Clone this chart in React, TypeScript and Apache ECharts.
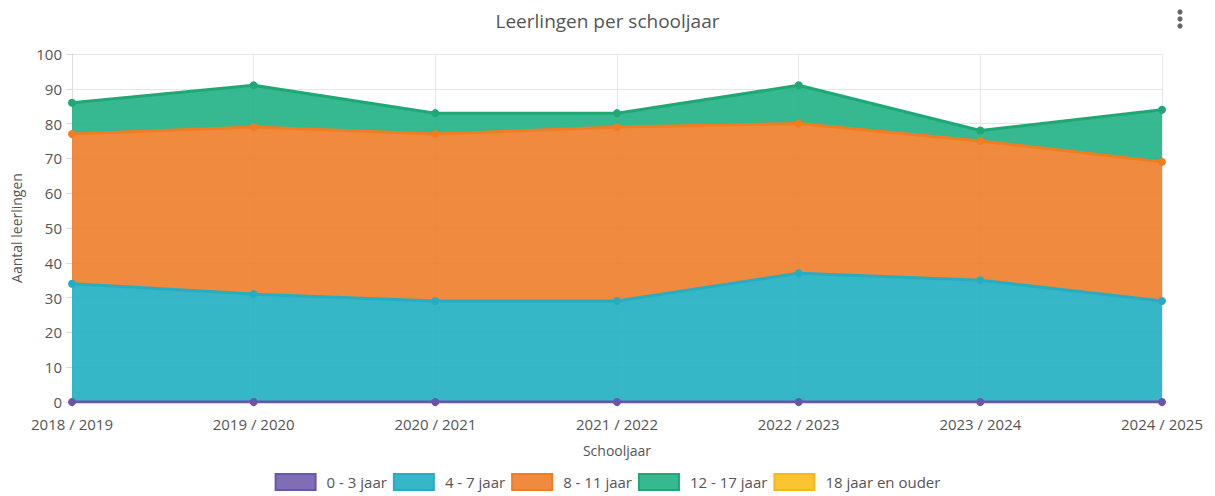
import React, { useEffect, useRef } from "react";
import * as echarts from "echarts";

const categories = ["2018 / 2019", "2019 / 2020", "2020 / 2021", "2021 / 2022", "2022 / 2023", "2023 / 2024", "2024 / 2025"];
const age0to3 = [0, 0, 0, 0, 0, 0, 0];
const age4to7 = [34, 31, 29, 29, 37, 35, 29];
const age8to11 = [43, 48, 48, 50, 43, 40, 40];
const age12to17 = [9, 12, 6, 4, 11, 3, 15];
const age18plus: (number | null)[] = [null, null, null, null, null, null, null];

const seriesNames = ["0 - 3 jaar", "4 - 7 jaar", "8 - 11 jaar", "12 - 17 jaar", "18 jaar en ouder"];
const legendColors = ["#7f6db5", "#35b7c8", "#f08a3e", "#36b890", "#fbc531"];
const areaColors = ["#715dad", "#1fafc2", "#ee7d29", "#20b084", "#fbbf1a"];
const lineColors = ["#6a55a8", "#27adc2", "#f07d22", "#1fa874", "#f5b81a"];

const FONT = "'Open Sans', sans-serif";

export default function App() {
  const ref = useRef<HTMLDivElement>(null);
  useEffect(() => {
    if (!ref.current) return;
    const chart = echarts.init(ref.current, undefined, { renderer: "svg" });
    const dataSets = [age0to3, age4to7, age8to11, age12to17, age18plus];
    chart.setOption({
      animation: false,
      textStyle: { fontFamily: FONT },
      title: {
        text: "Leerlingen per schooljaar",
        left: "center",
        top: -2,
        textStyle: { fontFamily: FONT, fontSize: 19, fontWeight: "normal", color: "#555" },
      },
      graphic: [
        { type: "circle", shape: { cx: 1172, cy: 4, r: 2.6 }, style: { fill: "#666" } },
        { type: "circle", shape: { cx: 1172, cy: 11, r: 2.6 }, style: { fill: "#666" } },
        { type: "circle", shape: { cx: 1172, cy: 18, r: 2.6 }, style: { fill: "#666" } },
      ],
      legend: {
        bottom: 0,
        left: "center",
        itemWidth: 40,
        itemHeight: 16,
        itemGap: 6,
        icon: "rect",
        textStyle: { fontFamily: FONT, fontSize: 15, color: "#555", padding: [0, 0, 0, 6] },
        data: seriesNames.map((n, i) => ({
          name: n,
          itemStyle: { color: legendColors[i], borderColor: lineColors[i], borderWidth: 2 },
        })),
      },
      grid: { left: 64, right: 45, top: 46, bottom: 94, containLabel: false, outerBoundsMode: "none" },
      xAxis: {
        type: "category",
        data: categories,
        boundaryGap: false,
        name: "Schooljaar",
        nameLocation: "middle",
        nameGap: 41,
        nameTextStyle: { fontFamily: FONT, fontSize: 14, color: "#555" },
        axisLine: { show: false },
        axisTick: { show: true, lineStyle: { color: "#ddd" }, length: 5 },
        axisLabel: { fontFamily: FONT, fontSize: 15, color: "#555", margin: 14 },
        splitLine: { show: true, lineStyle: { color: "#e6e6e6" } },
      },
      yAxis: {
        type: "value",
        min: 0,
        max: 100,
        interval: 10,
        name: "Aantal leerlingen",
        nameLocation: "middle",
        nameGap: 49,
        nameTextStyle: { fontFamily: FONT, fontSize: 14, color: "#555" },
        axisLine: { show: true, lineStyle: { color: "#ddd" } },
        axisTick: { show: true, length: 6, lineStyle: { color: "#ddd" } },
        axisLabel: { fontFamily: FONT, fontSize: 15, color: "#555", margin: 10 },
        splitLine: { show: true, lineStyle: { color: "#e6e6e6" } },
      },
      series: seriesNames.map((n, i) => ({
        name: n,
        type: "line",
        stack: "total",
        data: dataSets[i],
        symbol: "circle",
        symbolSize: 8,
        showSymbol: true,
        itemStyle: { color: lineColors[i] },
        lineStyle: { color: lineColors[i], width: 3 },
        areaStyle: { color: areaColors[i], opacity: 0.9 },
        z: i === 0 ? 10 : 2,
      })),
    });
    return () => chart.dispose();
  }, []);
  return <div ref={ref} style={{ width: 1199, height: 488 }} />;
}
